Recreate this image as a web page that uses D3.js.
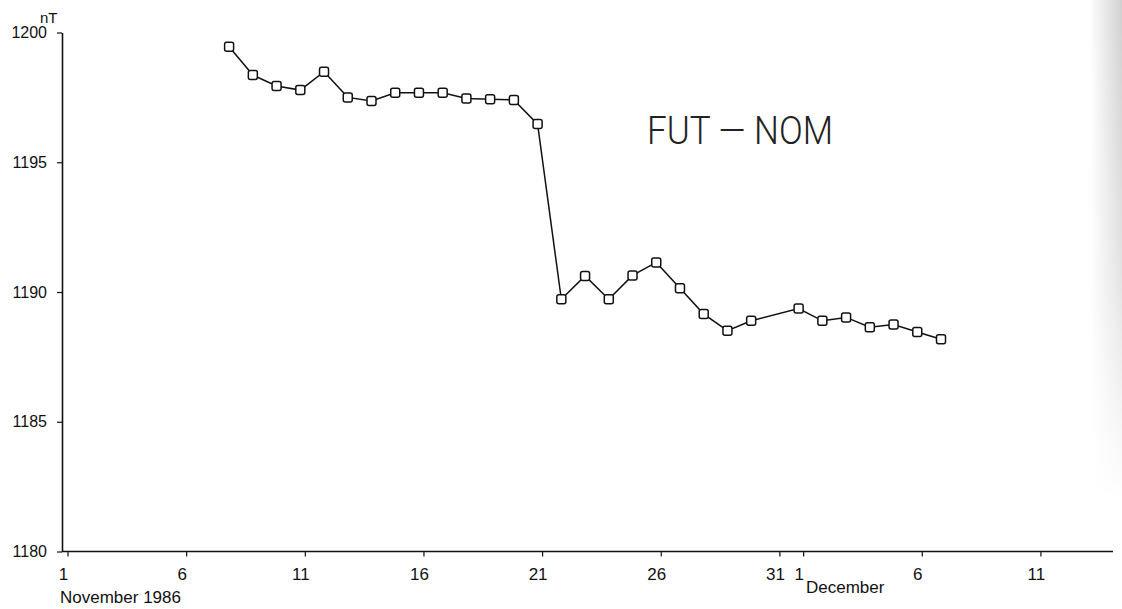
<!DOCTYPE html>
<html lang="en">

<head>
    <meta charset="UTF-8">
    <title>FUT - NOM</title>
    <script src="https://d3js.org/d3.v7.min.js"></script>
    <style>
        body { margin: 0; background: #fff; }
        svg text { fill: #111; }
    </style>
</head>

<body>
    <div id="container"></div>
    <script>
        // November 1986 daily values (nT)
        const novDays = [8, 9, 10, 11, 12, 13, 14, 15, 16, 17, 18, 19, 20, 21, 22, 23, 24, 25, 26, 27, 28, 29, 30];
        const novValues = [1199.45, 1198.36, 1197.94, 1197.78, 1198.49, 1197.50, 1197.36, 1197.68, 1197.68, 1197.68,
            1197.46, 1197.43, 1197.40, 1196.47, 1189.72, 1190.62, 1189.72, 1190.64, 1191.14, 1190.14,
            1189.15, 1188.51, 1188.89];
        // December 1986 daily values (nT)
        const decDays = [1, 2, 3, 4, 5, 6, 7];
        const decValues = [1189.36, 1188.89, 1189.02, 1188.64, 1188.75, 1188.46, 1188.18];

        const yTicks = [1180, 1185, 1190, 1195, 1200];
        const novTicks = [1, 6, 11, 16, 21, 26, 31];
        const decTicks = [1, 6, 11];

        const width = 1122, height = 609;

        const svg = d3.select("#container")
            .append("svg")
            .attr("width", width)
            .attr("height", height);

        // scan shading at the right edge, fading out downwards
        const defs = svg.append("defs");
        const grad = defs.append("linearGradient").attr("id", "edge")
            .attr("x1", 0).attr("x2", 1).attr("y1", 0).attr("y2", 0);
        grad.append("stop").attr("offset", "0%").attr("stop-color", "#fff");
        grad.append("stop").attr("offset", "100%").attr("stop-color", "#d0d0d0");
        const fade = defs.append("linearGradient").attr("id", "fade")
            .attr("x1", 0).attr("x2", 0).attr("y1", 0).attr("y2", 1);
        fade.append("stop").attr("offset", "0%").attr("stop-color", "#fff");
        fade.append("stop").attr("offset", "55%").attr("stop-color", "#999");
        fade.append("stop").attr("offset", "100%").attr("stop-color", "#000");
        defs.append("mask").attr("id", "edgeMask")
            .append("rect")
            .attr("x", 1090).attr("y", 0)
            .attr("width", 32).attr("height", 500)
            .attr("fill", "url(#fade)");
        svg.append("rect")
            .attr("x", 1090).attr("y", 0)
            .attr("width", 32).attr("height", 500)
            .attr("fill", "url(#edge)")
            .attr("mask", "url(#edgeMask)");

        // day count from 1 November; December days continue after "31"
        const x = d3.scaleLinear()
            .domain([1, 42])
            .range([63, 63 + 41 * 23.73]);

        const y = d3.scaleLinear()
            .domain([1180, 1200])
            .range([551.5, 32.5]);

        const points = novDays.map((d, i) => ({ day: d, value: novValues[i] }))
            .concat(decDays.map((d, i) => ({ day: 31 + d, value: decValues[i] })));

        // Y axis
        const yAxis = svg.append("g")
            .attr("transform", `translate(${x(1) - 1}, 0)`)
            .call(d3.axisLeft(y).tickValues(yTicks).tickFormat(d3.format("d"))
                .tickSize(5).tickSizeOuter(0).tickPadding(10));
        yAxis.select(".domain").attr("stroke", "#111").attr("stroke-width", 1.6);
        yAxis.selectAll(".tick line").attr("stroke", "#111").attr("stroke-width", 1.2);
        yAxis.selectAll(".tick text")
            .attr("font-family", "Liberation Sans, Arial, sans-serif")
            .attr("font-size", "16px");

        svg.append("text")
            .attr("x", 40)
            .attr("y", 23)
            .attr("font-family", "Liberation Sans, Arial, sans-serif")
            .attr("font-size", "15px")
            .text("nT");

        // X axis
        const xTickValues = novTicks.concat(decTicks.map(d => 31 + d));
        const xAxis = svg.append("g")
            .attr("transform", `translate(0, ${y(1180)})`)
            .call(d3.axisBottom(x)
                .tickValues(xTickValues)
                .tickFormat(d => d > 31 ? d - 31 : d)
                .tickSize(5)
                .tickSizeOuter(0)
                .tickPadding(11));
        xAxis.select(".domain").remove();
        xAxis.selectAll(".tick line")
            .attr("stroke", "#111")
            .attr("stroke-width", 1.2)
            .attr("transform", "translate(4.5, 0)");
        xAxis.selectAll(".tick text")
            .attr("font-family", "Liberation Sans, Arial, sans-serif")
            .attr("font-size", "17px");

        svg.append("line")
            .attr("x1", x(1) - 1)
            .attr("x2", 1113)
            .attr("y1", y(1180))
            .attr("y2", y(1180))
            .attr("stroke", "#111")
            .attr("stroke-width", 1.6);

        svg.append("text")
            .attr("x", 60)
            .attr("y", 603)
            .attr("font-family", "Liberation Sans, Arial, sans-serif")
            .attr("font-size", "17px")
            .text("November 1986");

        svg.append("text")
            .attr("x", 806)
            .attr("y", 593)
            .attr("font-family", "Liberation Sans, Arial, sans-serif")
            .attr("font-size", "17px")
            .text("December");

        // line with square markers
        const line = d3.line()
            .x(d => x(d.day))
            .y(d => y(d.value));

        svg.append("path")
            .datum(points)
            .attr("d", line)
            .attr("fill", "none")
            .attr("stroke", "#111")
            .attr("stroke-width", 1.5);

        const size = 9;
        svg.append("g")
            .selectAll("rect")
            .data(points)
            .enter()
            .append("rect")
            .attr("x", d => x(d.day) - size / 2)
            .attr("y", d => y(d.value) - size / 2)
            .attr("width", size)
            .attr("height", size)
            .attr("rx", 2)
            .attr("fill", "#fff")
            .attr("stroke", "#111")
            .attr("stroke-width", 1.5);

        // title
        svg.append("text")
            .attr("x", 647)
            .attr("y", 144)
            .attr("font-family", "Roboto, Liberation Sans, sans-serif")
            .attr("font-weight", 300)
            .attr("font-size", "38px")
            .attr("textLength", 186)
            .attr("lengthAdjust", "spacingAndGlyphs")
            .style("fill", "#222")
            .text("FUT — NOM");
    </script>

</body>

</html>
